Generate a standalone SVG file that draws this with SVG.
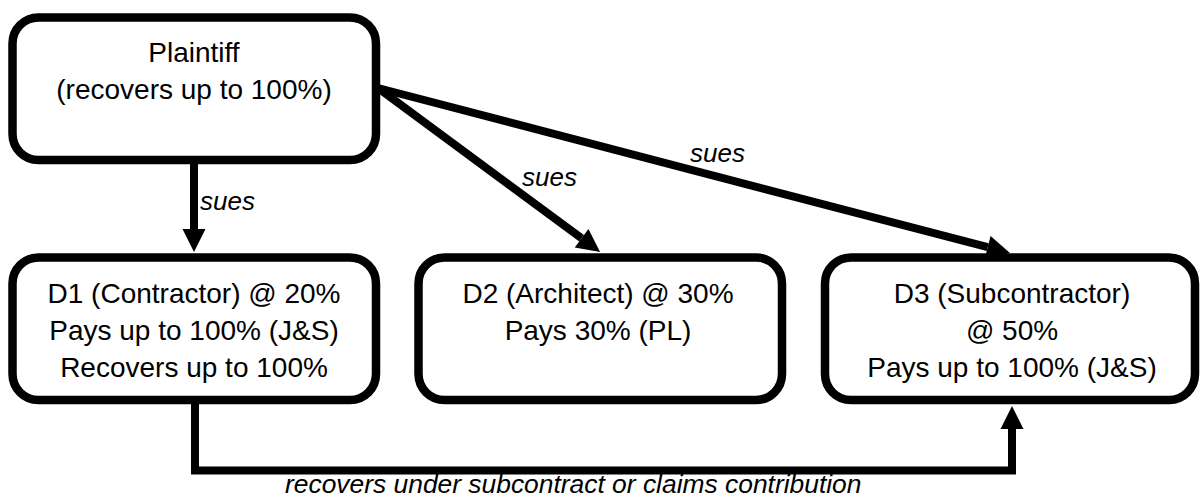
<svg xmlns="http://www.w3.org/2000/svg" width="1201" height="499" viewBox="0 0 1201 499">
<style>
.box{fill:#fff;stroke:#000;stroke-width:8.5}
.t{font-family:"Liberation Sans",Arial,sans-serif;font-size:28px;fill:#000;text-anchor:middle}
.lbl{font-family:"Liberation Sans",Arial,sans-serif;font-size:26px;font-style:italic;fill:#000}
.c{fill:none;stroke:#000;stroke-width:8}
</style>
<defs>
<marker id="ah" markerUnits="userSpaceOnUse" markerWidth="24" markerHeight="24" refX="0" refY="11.5" orient="auto" overflow="visible">
<path d="M0,0 L23,11.5 L0,23 Z" fill="#000"/>
</marker>
</defs>
<rect width="1201" height="499" fill="#fff"/>
<g id="connectors">
<path class="c" d="M194,162 V229" marker-end="url(#ah)"/>
<path class="c" d="M378,88 L581.6,238.3" marker-end="url(#ah)"/>
<path class="c" d="M378,88 L987.7,247.2" marker-end="url(#ah)"/>
<path class="c" d="M195,402 V470.5 H1012 V429" marker-end="url(#ah)"/>
<text class="lbl" x="200" y="210">sues</text>
<text class="lbl" x="522" y="186">sues</text>
<text class="lbl" x="690" y="162">sues</text>
<text class="lbl" x="285" y="493" style="font-size:26.4px">recovers under subcontract or claims contribution</text>
</g>
<g id="plaintiff">
<rect class="box" x="12.5" y="17.5" width="363.5" height="142.5" rx="26"/>
<text class="t" x="194" y="62">Plaintiff</text>
<text class="t" x="194" y="99">(recovers up to 100%)</text>
</g>
<g id="d1">
<rect class="box" x="12.5" y="257.5" width="363.5" height="142.5" rx="26"/>
<text class="t" x="194" y="303">D1 (Contractor) @ 20%</text>
<text class="t" x="194" y="340">Pays up to 100% (J&amp;S)</text>
<text class="t" x="194" y="377">Recovers up to 100%</text>
</g>
<g id="d2">
<rect class="box" x="418.5" y="257.5" width="363.5" height="142.5" rx="26"/>
<text class="t" x="598" y="303">D2 (Architect) @ 30%</text>
<text class="t" x="598" y="340">Pays 30% (PL)</text>
</g>
<g id="d3">
<rect class="box" x="825" y="257.5" width="370" height="142.5" rx="26"/>
<text class="t" x="1012" y="303">D3 (Subcontractor)</text>
<text class="t" x="1012" y="340">@ 50%</text>
<text class="t" x="1012" y="377">Pays up to 100% (J&amp;S)</text>
</g>
</svg>
